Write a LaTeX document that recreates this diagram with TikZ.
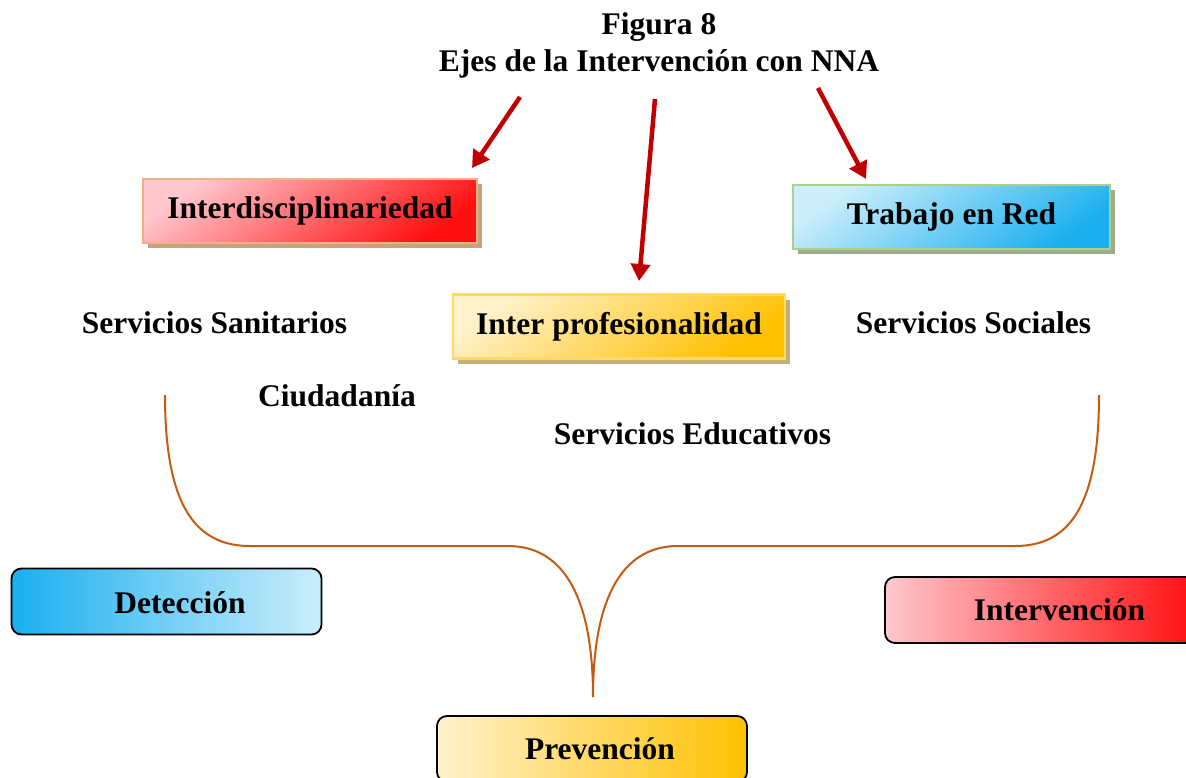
\documentclass[tikz,border=0pt]{standalone}
\usepackage{fontspec}
\setmainfont{Liberation Serif}
\usetikzlibrary{arrows.meta,shadows}
\definecolor{arrowred}{HTML}{C00000}
\definecolor{curvec}{HTML}{C55A11}
\definecolor{pinkl}{HTML}{FFC7CE}
\definecolor{redd}{HTML}{FF1010}
\definecolor{bluel}{HTML}{CCEEFB}
\definecolor{blued}{HTML}{1AAFEF}
\definecolor{yell}{HTML}{FFF2CC}
\definecolor{yeld}{HTML}{FFC000}
\definecolor{bordo}{HTML}{F4B183}
\definecolor{bordg}{HTML}{A9D18E}
\definecolor{bordy}{HTML}{FFD966}
\definecolor{shado}{HTML}{C8A27E}
\definecolor{shadg}{HTML}{9FAA8E}
\definecolor{shady}{HTML}{C2AF78}
\begin{document}
\begin{tikzpicture}[x=1pt,y=-1pt,
  txt/.style={font=\fontsize{31.5}{37}\selectfont\bfseries, inner sep=0pt, align=center},
  topbox/.style={draw=#1, line width=2.5pt, inner sep=0pt, minimum height=64pt,
     font=\fontsize{31.5}{37}\selectfont\bfseries},
  rbox/.style={draw=black, line width=1.8pt, rounded corners=10pt, inner sep=0pt,
     minimum width=310pt, minimum height=66pt},
  arr/.style={draw=arrowred, line width=4.5pt, -{Triangle[length=17pt,width=19pt]}},
  brace/.style={draw=curvec, line width=2pt}
]
\useasboundingbox (0,0) rectangle (1186,777);

% title
\node[txt] (title) at (659,45) {Figura 8\\Ejes de la Intervención con NNA};

% top boxes
\node[topbox=bordo, minimum width=334pt, top color=pinkl, bottom color=redd, shading angle=35,
  drop shadow={shadow xshift=5pt, shadow yshift=-5pt, fill=shado, opacity=1}]
  (inter) at (310,211) {Interdisciplinariedad};
\node[topbox=bordg, minimum width=317pt, top color=bluel, bottom color=blued, shading angle=35,
  drop shadow={shadow xshift=5pt, shadow yshift=-5pt, fill=shadg, opacity=1}]
  (red) at (951.5,217) {Trabajo en Red};
\node[topbox=bordy, minimum width=332pt, top color=yell, bottom color=yeld, shading angle=35,
  drop shadow={shadow xshift=5pt, shadow yshift=-5pt, fill=shady, opacity=1}]
  (prof) at (619,326.5) {Inter profesionalidad};

% arrows
\coordinate (a1s) at (520,97);  \coordinate (a1e) at (472,168);
\coordinate (a2s) at (655,99);  \coordinate (a2e) at (639,281);
\coordinate (a3s) at (818,88);  \coordinate (a3e) at (866,179);
\draw[arr] (a1s) -- (a1e);
\draw[arr] (a2s) -- (a2e);
\draw[arr] (a3s) -- (a3e);

% free texts
\node[txt] (sanit) at (214.5,323) {Servicios Sanitarios};
\node[txt] (soc) at (973.5,323) {Servicios Sociales};
\node[txt] (ciud) at (337,396) {Ciudadanía};
\node[txt] (educ) at (692.5,434) {Servicios Educativos};

% brace curves
\coordinate (lt) at (165,395);
\coordinate (lh) at (250,546);
\coordinate (lm) at (508,546);
\coordinate (tip) at (593,697);
\coordinate (rt) at (1099,395);
\coordinate (rh) at (1015,546);
\coordinate (rm) at (678,546);
\draw[brace] (lt) .. controls (165,505) and (195,546) .. (lh) -- (lm)
   .. controls (565,546) and (593,600) .. (tip);
\draw[brace] (rt) .. controls (1099,505) and (1070,546) .. (rh) -- (rm)
   .. controls (621,546) and (593,600) .. (tip);

% bottom boxes
\node[rbox, left color=blued, right color=bluel] (det) at (166.5,601.5) {};
\node[txt] (dett) at (180,603) {Detección};
\node[rbox, left color=pinkl, right color=redd] (intv) at (1040,610) {};
\node[txt] (intvt) at (1059.5,610) {Intervención};
\node[rbox, left color=yell, right color=yeld] (prev) at (592,749) {};
\node[txt] (prevt) at (600,749) {Prevención};
\end{tikzpicture}
\end{document}
